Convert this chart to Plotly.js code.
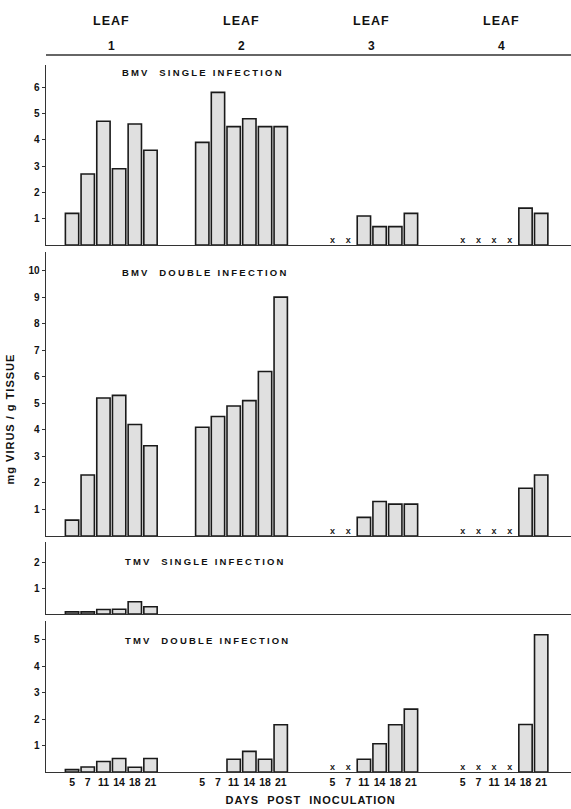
<!DOCTYPE html>
<html>
<head>
<meta charset="utf-8">
<script src="https://cdn.plot.ly/plotly-3.0.1.min.js"></script>
<style>
html,body{margin:0;padding:0;background:#fff;}
#chart{width:571px;height:809px;}
</style>
</head>
<body>
<div id="chart"></div>
<script>
// ---- data ----
const days = ['5', '7', '11', '14', '18', '21'];
const leaves = ['1', '2', '3', '4'];
// 'x' = virus not detected (marked with x), null = no sample shown
const bmvSingle = [1.2, 2.7, 4.7, 2.9, 4.6, 3.6,
                   3.9, 5.8, 4.5, 4.8, 4.5, 4.5,
                   'x', 'x', 1.1, 0.7, 0.7, 1.2,
                   'x', 'x', 'x', 'x', 1.4, 1.2];
const bmvDouble = [0.6, 2.3, 5.2, 5.3, 4.2, 3.4,
                   4.1, 4.5, 4.9, 5.1, 6.2, 9.0,
                   'x', 'x', 0.7, 1.3, 1.2, 1.2,
                   'x', 'x', 'x', 'x', 1.8, 2.3];
const tmvSingle = [0.08, 0.08, 0.17, 0.18, 0.47, 0.28,
                   null, null, null, null, null, null,
                   null, null, null, null, null, null,
                   null, null, null, null, null, null];
const tmvDouble = [0.09, 0.19, 0.4, 0.51, 0.18, 0.51,
                   null, null, 0.48, 0.78, 0.48, 1.79,
                   'x', 'x', 0.48, 1.07, 1.79, 2.38,
                   'x', 'x', 'x', 'x', 1.8, 5.2];
const panelTitles = ['BMV&nbsp;&nbsp;SINGLE INFECTION', 'BMV&nbsp;&nbsp;DOUBLE INFECTION',
                     'TMV&nbsp;&nbsp;SINGLE INFECTION', 'TMV&nbsp;&nbsp;DOUBLE INFECTION'];
const yTicks = [[1, 2, 3, 4, 5, 6], [1, 2, 3, 4, 5, 6, 7, 8, 9, 10], [1, 2], [1, 2, 3, 4, 5]];
const yTitle = 'mg VIRUS / g TISSUE';
const xTitle = 'DAYS&nbsp;&nbsp;POST&nbsp;&nbsp;INOCULATION';

// ---- layout helpers ----
const GROUP = 8.3;
const xs = [], xlabels = [];
leaves.forEach((l, g) => days.forEach((d, i) => { xs.push(g * GROUP + i); xlabels.push(d); }));

const series = [bmvSingle, bmvDouble, tmvSingle, tmvDouble];
const domains = [[0.7454, 1], [0.3338, 0.7355], [0.2235, 0.3253], [0, 0.2136]];
const yRanges = [6.84, 10.7, 2.77, 5.72];
const labelY = [0.9887, 0.7058, 0.2984, 0.1867];
const labelX = [0.2990, 0.3029, 0.3040, 0.3080];
const FONT = 'Liberation Sans, Arial, sans-serif';
const xRange = [-1.66, 3 * GROUP + 6.9];

const traces = [];
const layout = {
  width: 571, height: 809,
  margin: {l: 46, r: 0, t: 65, b: 37},
  paper_bgcolor: '#fff', plot_bgcolor: '#fff',
  showlegend: false,
  font: {family: FONT, color: '#111'},
  annotations: [], shapes: []
};

series.forEach((vals, p) => {
  const n = p + 1;
  const xa = n === 1 ? 'x' : 'x' + n, ya = n === 1 ? 'y' : 'y' + n;
  const barX = [], barY = [], ndX = [], ndY = [];
  vals.forEach((v, k) => {
    if (v === 'x') { ndX.push(xs[k]); ndY.push(0); }
    else if (v !== null) { barX.push(xs[k]); barY.push(v); }
  });
  traces.push({
    type: 'bar', x: barX, y: barY, xaxis: xa, yaxis: ya, width: 0.85,
    marker: {color: '#e0e0e0', line: {color: '#1a1a1a', width: 1.6}},
    hoverinfo: 'skip'
  });
  if (ndX.length) traces.push({
    type: 'scatter', mode: 'text', x: ndX, y: ndY, xaxis: xa, yaxis: ya,
    text: ndX.map(() => 'x'), textposition: 'top center',
    textfont: {family: FONT, size: 9, color: '#222', weight: 'bold'}, cliponaxis: false, hoverinfo: 'skip'
  });
  const last = n === 4;
  layout['xaxis' + (n === 1 ? '' : n)] = {
    domain: [0, 1], anchor: ya, range: xRange, showgrid: false, zeroline: false,
    showline: true, linecolor: '#333', linewidth: 1.4, ticks: '',
    tickmode: 'array', tickvals: last ? xs : [], ticktext: last ? xlabels : [],
    showticklabels: last, tickfont: {family: FONT, size: 10.5, color: '#111', weight: 'bold'},
    fixedrange: true
  };
  layout['yaxis' + (n === 1 ? '' : n)] = {
    domain: domains[p], anchor: xa, range: [0, yRanges[p]], showgrid: false, zeroline: false,
    showline: true, linecolor: '#333', linewidth: 1.4, ticks: 'outside', ticklen: 3,
    tickcolor: '#333', tickwidth: 1, tickmode: 'array', tickvals: yTicks[p],
    tickfont: {family: FONT, size: 10, color: '#111', weight: 'bold'}, fixedrange: true
  };
  layout.annotations.push({
    xref: 'paper', yref: 'paper', x: labelX[p], y: labelY[p], xanchor: 'center', yanchor: 'middle',
    text: panelTitles[p], showarrow: false, font: {family: FONT, size: 9.5, color: '#111', weight: 'bold'}
  });
});

leaves.forEach((l, g) => {
  const cx = g * GROUP + 2.5;
  layout.annotations.push({xref: 'x', yref: 'paper', x: cx, y: 1.0622, text: 'LEAF', showarrow: false,
    xanchor: 'center', yanchor: 'middle', font: {family: FONT, size: 12.5, color: '#111', weight: 'bold'}});
  layout.annotations.push({xref: 'x', yref: 'paper', x: cx, y: 1.0269, text: l, showarrow: false,
    xanchor: 'center', yanchor: 'middle', font: {family: FONT, size: 12, color: '#111', weight: 'bold'}});
});
layout.shapes.push({type: 'line', xref: 'paper', yref: 'paper', x0: 0, x1: 1, y0: 1.0141, y1: 1.0141,
  line: {color: '#333', width: 1.4}});

layout.annotations.push({xref: 'paper', yref: 'paper', x: -0.0686, y: 0.4993, textangle: -90,
  text: yTitle, showarrow: false, xanchor: 'center', yanchor: 'middle',
  font: {family: FONT, size: 11, color: '#111', weight: 'bold'}});
layout.annotations.push({xref: 'paper', yref: 'paper', x: 0.503, y: -0.0396,
  text: xTitle, showarrow: false, xanchor: 'center', yanchor: 'middle',
  font: {family: FONT, size: 11, color: '#111', weight: 'bold'}});

Plotly.newPlot('chart', traces, layout, {displayModeBar: false, staticPlot: true}).then(() => {
  document.querySelectorAll('#chart text.annotation-text').forEach(t => {
    const s = t.textContent;
    let ls = '1px';
    if (s.indexOf('INFECTION') >= 0) ls = '2.2px';
    else if (/^\d$/.test(s)) ls = '0px';
    t.style.letterSpacing = ls;
  });
});
</script>
</body>
</html>
